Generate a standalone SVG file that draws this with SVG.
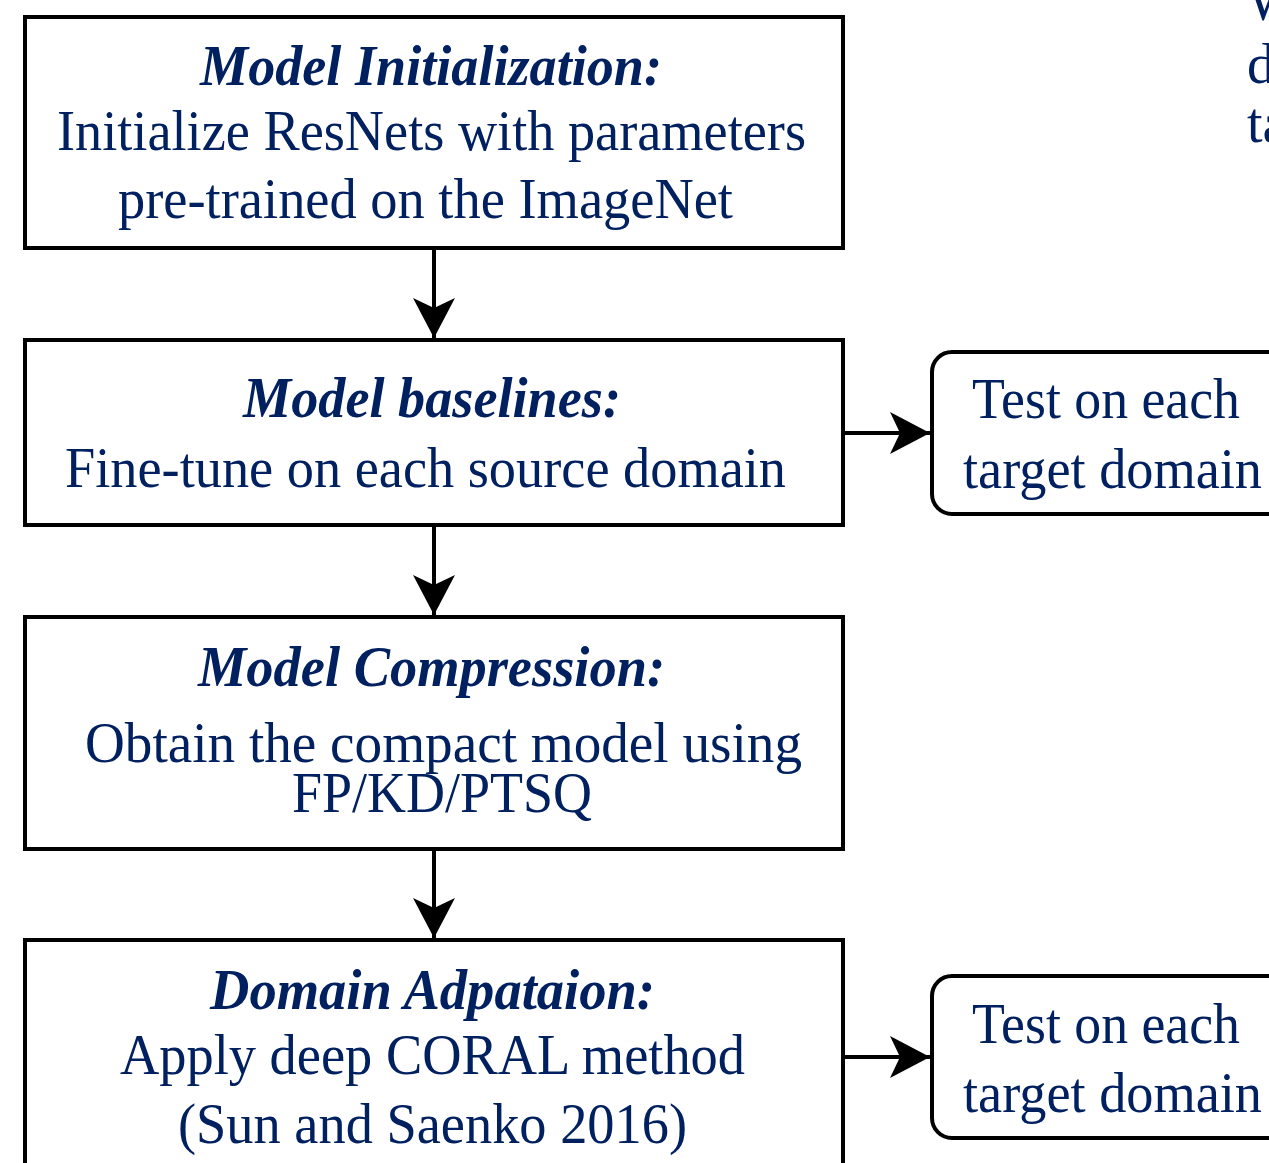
<svg xmlns="http://www.w3.org/2000/svg" width="1269" height="1163" viewBox="0 0 1269 1163">
<style>
.box{fill:#fff;stroke:#000;stroke-width:4}
.t{font-family:"Liberation Serif","Times New Roman",serif;font-size:56px;fill:#002060}
.h{font-weight:bold;font-style:italic}
.c{stroke:#000;stroke-width:4;fill:none}
</style>
<defs>
<marker id="ah" markerUnits="userSpaceOnUse" markerWidth="42" markerHeight="44" refX="40" refY="21" orient="auto" viewBox="0 0 42 44">
<path d="M0,0 L40,21 L0,42 L10,21 Z" fill="#000"/>
</marker>
</defs>
<rect width="1269" height="1163" fill="#fff"/>
<g id="connectors">
<line class="c" x1="434" y1="248" x2="434" y2="338" marker-end="url(#ah)"/>
<line class="c" x1="434" y1="525" x2="434" y2="615" marker-end="url(#ah)"/>
<line class="c" x1="434" y1="849" x2="434" y2="938" marker-end="url(#ah)"/>
<line class="c" x1="843" y1="433" x2="930" y2="433" marker-end="url(#ah)"/>
<line class="c" x1="843" y1="1057" x2="930" y2="1057" marker-end="url(#ah)"/>
</g>
<g id="init">
<rect class="box" x="25" y="17" width="818" height="231"/>
<text class="t h" x="200" y="85" textLength="462" lengthAdjust="spacingAndGlyphs">Model Initialization:</text>
<text class="t" x="57" y="150" textLength="749" lengthAdjust="spacingAndGlyphs">Initialize ResNets with parameters</text>
<text class="t" x="118" y="218" textLength="615" lengthAdjust="spacingAndGlyphs">pre-trained on the ImageNet</text>
</g>
<g id="baselines">
<rect class="box" x="25" y="340" width="818" height="185"/>
<text class="t h" x="243" y="417" textLength="378" lengthAdjust="spacingAndGlyphs">Model baselines:</text>
<text class="t" x="65" y="487" textLength="721" lengthAdjust="spacingAndGlyphs">Fine-tune on each source domain</text>
</g>
<g id="compression">
<rect class="box" x="25" y="617" width="818" height="232"/>
<text class="t h" x="198" y="686" textLength="467" lengthAdjust="spacingAndGlyphs">Model Compression:</text>
<text class="t" x="85" y="762" textLength="717" lengthAdjust="spacingAndGlyphs">Obtain the compact model using</text>
<text class="t" x="292" y="812" textLength="300" lengthAdjust="spacingAndGlyphs">FP/KD/PTSQ</text>
</g>
<g id="adaptation">
<rect class="box" x="25" y="940" width="818" height="260"/>
<text class="t h" x="210" y="1009" textLength="445" lengthAdjust="spacingAndGlyphs">Domain Adpataion:</text>
<text class="t" x="120" y="1074" textLength="625" lengthAdjust="spacingAndGlyphs">Apply deep CORAL method</text>
<text class="t" x="178" y="1143" textLength="509" lengthAdjust="spacingAndGlyphs">(Sun and Saenko 2016)</text>
</g>
<g id="test1">
<rect class="box" x="932" y="352" width="380" height="162" rx="20"/>
<text class="t" x="972" y="418" textLength="268" lengthAdjust="spacingAndGlyphs">Test on each</text>
<text class="t" x="963" y="488" textLength="299" lengthAdjust="spacingAndGlyphs">target domain</text>
</g>
<g id="test2">
<rect class="box" x="932" y="976" width="380" height="162" rx="20"/>
<text class="t" x="972" y="1043" textLength="268" lengthAdjust="spacingAndGlyphs">Test on each</text>
<text class="t" x="963" y="1112" textLength="299" lengthAdjust="spacingAndGlyphs">target domain</text>
</g>
<g id="topright">
<text class="t" x="1247" y="20">W</text>
<text class="t" x="1247" y="83">d</text>
<text class="t" x="1247" y="142">ta</text>
</g>
</svg>
